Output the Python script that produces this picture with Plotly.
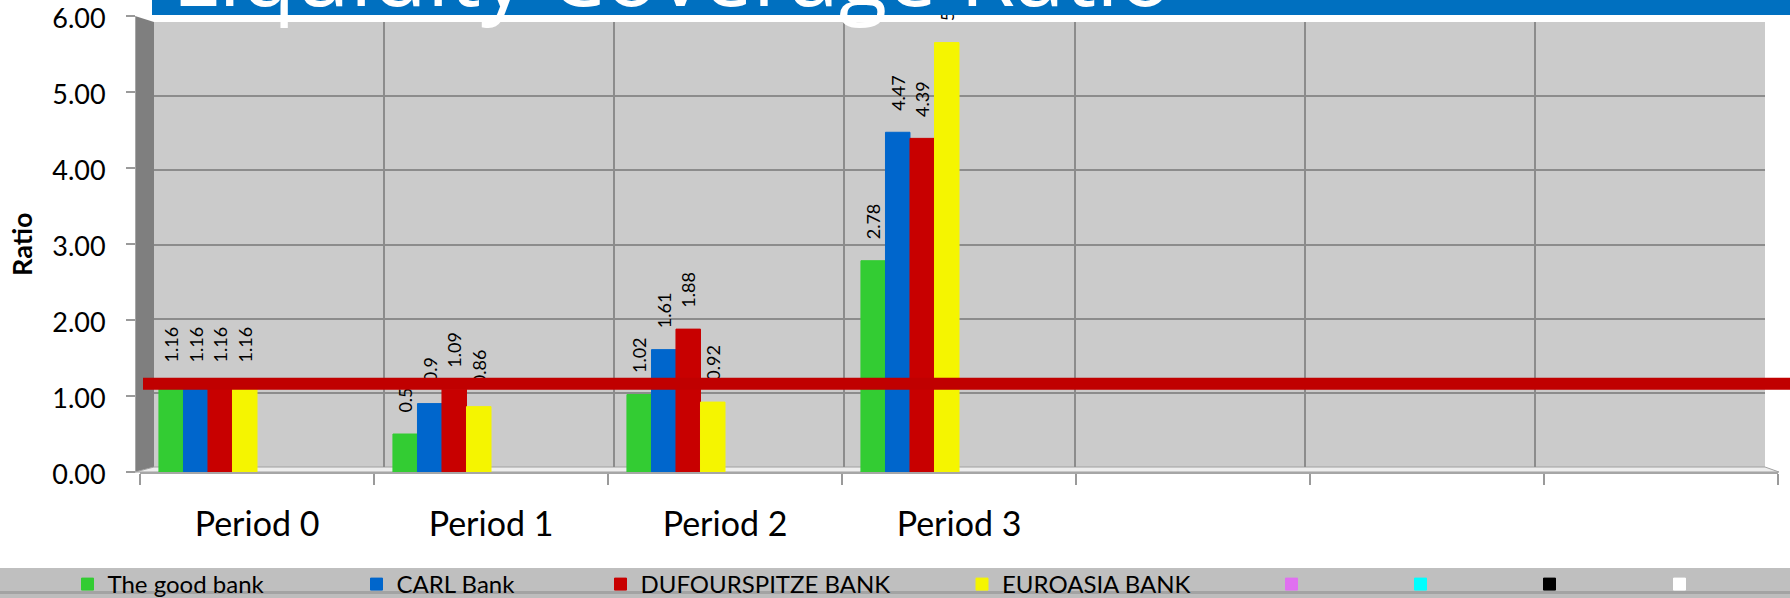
import plotly.graph_objects as go

W, H = 1790, 598

# ---------------- data ----------------
categories = ["Period 0", "Period 1", "Period 2", "Period 3", " ", "  ", "   "]
series_names = ["The good bank", "CARL Bank", "DUFOURSPITZE BANK", "EUROASIA BANK", " ", " ", " ", " "]
good_bank = [1.16, 0.5, 1.02, 2.78, None, None, None]
carl_bank = [1.16, 0.9, 1.61, 4.47, None, None, None]
dufourspitze_bank = [1.16, 1.09, 1.88, 4.39, None, None, None]
euroasia_bank = [1.16, 0.86, 0.92, 5.65, None, None, None]
empty_series = [None] * 7
y_ticks = [0, 1, 2, 3, 4, 5, 6]
threshold = 1.16
title_text = "Liquidity Coverage Ratio"
y_title = "Ratio"

series_values = [good_bank, carl_bank, dufourspitze_bank, euroasia_bank,
                 empty_series, empty_series, empty_series, empty_series]
series_colors = ["#33cc33", "#0066cc", "#c80000", "#f5f500",
                 "#e070f0", "#00ffff", "#000000", "#ffffff"]
legend_sym_px = [90.5, 379.5, 623.5, 985, 1294.5, 1423.5, 1552.5, 1682.5]


def fx(px):
    return px / W


def fy(py):
    return 1 - py / H


def lab(v):
    return "" if v is None else "\u00a0" * 4 + f"{v:g}"


fig = go.Figure()
# helper (no data) so that the back-wall grid subplot x/y exists
fig.add_trace(go.Scatter(x=[], y=[], xaxis="x", yaxis="y", showlegend=False,
                         hoverinfo="skip", mode="markers"))

for i, (name, vals, col) in enumerate(zip(series_names, series_values, series_colors)):
    fig.add_trace(go.Bar(
        x=categories, y=vals, name=name,
        xaxis="x2", yaxis="y2",
        marker=dict(color=col, line=dict(color=col, width=1)),
        text=[lab(v) for v in vals] if i < 4 else None,
        textposition="outside", textangle=-90,
        textfont=dict(family="Lato", size=18, color="#000000"),
        constraintext="none", cliponaxis=False,
        hoverinfo="skip",
        legend="legend" if i == 0 else f"legend{i + 1}",
    ))

grid_style = dict(showgrid=True, gridcolor="#8c8c8c", gridwidth=2,
                  showticklabels=False, ticks="", zeroline=False, showline=False,
                  fixedrange=True)

layout = dict(
    width=W, height=H,
    margin=dict(l=0, r=0, t=0, b=0, pad=0, autoexpand=False),
    paper_bgcolor="#ffffff", plot_bgcolor="rgba(0,0,0,0)",
    barmode="group", bargap=0.162, bargroupgap=0,
    font=dict(family="Lato", color="#000000"),
    xaxis=dict(domain=[fx(154), fx(1765)], range=[-0.5, 6.5],
               tickvals=[k - 0.5 for k in range(8)], anchor="y", **grid_style),
    yaxis=dict(domain=[fy(467), fy(22)], range=[0, 6],
               tickvals=y_ticks, anchor="x", **grid_style),
    xaxis2=dict(domain=[fx(140), fx(1778)], anchor="y2", type="category",
                categoryarray=categories, range=[-0.5, 6.5],
                tickson="boundaries", ticks="outside", ticklen=11, tickwidth=2,
                tickcolor="#9a9a9a", showline=True, linecolor="#a6a6a6", linewidth=2,
                showgrid=False, zeroline=False, fixedrange=True, automargin=False,
                tickfont=dict(family="Lato", size=34, color="#000000"),
                ticklabelstandoff=21),
    yaxis2=dict(domain=[fy(472), fy(16)], anchor="free", position=fx(135),
                range=[0, 6], tickvals=y_ticks, tickformat=".2f",
                ticks="outside", ticklen=9, tickwidth=2, tickcolor="#9a9a9a",
                showline=True, linecolor="#a6a6a6", linewidth=1,
                showgrid=False, zeroline=False, fixedrange=True, automargin=False,
                ticklabeloverflow="allow", ticklabelshift=3,
                tickfont=dict(family="Lato", size=27, color="#000000"),
                ticklabelstandoff=15),
    showlegend=True,
)

for i, px in enumerate(legend_sym_px):
    key = "legend" if i == 0 else f"legend{i + 1}"
    layout[key] = dict(x=fx(px - 23), y=fy(584.5), xanchor="left", yanchor="middle",
                       orientation="h", bgcolor="rgba(0,0,0,0)", borderwidth=0,
                       font=dict(family="Lato", size=24, color="#000000"))

shapes = [
    # back wall
    dict(type="rect", xref="x domain", yref="y domain", x0=0, x1=1, y0=0, y1=1,
         fillcolor="#cbcbcb", line=dict(width=0), layer="below"),
    # left side wall
    dict(type="path", xref="paper", yref="paper",
         path=f"M{fx(135)},{fy(16)} L{fx(154)},{fy(22)} L{fx(154)},{fy(467)} L{fx(135)},{fy(472)} Z",
         fillcolor="#7f7f7f", line=dict(width=0), layer="below"),
    # floor
    dict(type="path", xref="paper", yref="paper",
         path=f"M{fx(135)},{fy(472)} L{fx(154)},{fy(467)} L{fx(1765)},{fy(467)} L{fx(1779)},{fy(472)} Z",
         fillcolor="#ededed", line=dict(width=1, color="#a0a0a0"), layer="below"),
    # legend band
    dict(type="rect", xref="paper", yref="paper", x0=0, x1=1, y0=fy(591), y1=fy(568),
         fillcolor="#bfbfbf", line=dict(width=0), layer="below"),
    dict(type="rect", xref="paper", yref="paper", x0=0, x1=1, y0=fy(594), y1=fy(591),
         fillcolor="#a3a3a3", line=dict(width=0), layer="below"),
    dict(type="rect", xref="paper", yref="paper", x0=0, x1=1, y0=fy(598), y1=fy(594),
         fillcolor="#bdbdbd", line=dict(width=0), layer="below"),
    # threshold line
    dict(type="line", xref="paper", yref="y2", x0=fx(143), x1=1, y0=threshold, y1=threshold,
         line=dict(color="#c00000", width=12), layer="above"),
    # title band
    dict(type="rect", xref="paper", yref="paper", x0=fx(152), x1=1, y0=fy(15), y1=1.1,
         fillcolor="#0070c0", line=dict(width=0), layer="above"),
]
layout["shapes"] = shapes

layout["annotations"] = [
    dict(text=title_text, xref="paper", yref="paper", x=fx(170), y=fy(34),
         xanchor="left", yanchor="bottom", showarrow=False,
         font=dict(family="Open Sans", size=89, color="#ffffff")),
    dict(text=f"<b>{y_title}</b>", xref="paper", yref="paper", x=fx(22), y=fy(244),
         xanchor="center", yanchor="middle", textangle=-90, showarrow=False,
         font=dict(family="Lato", size=27, color="#000000")),
]

fig.update_layout(**layout)
fig.write_html("out.html",
               config={"displayModeBar": False},
               post_script="document.body.style.margin='0';document.body.style.overflow='hidden';")
